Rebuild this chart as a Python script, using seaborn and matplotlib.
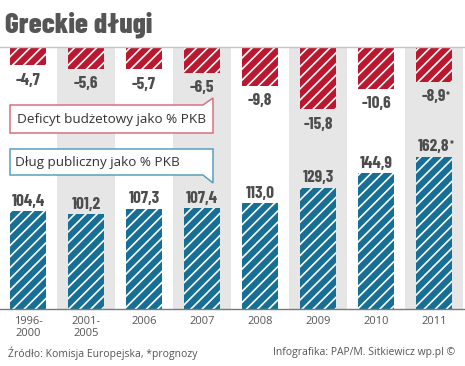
import matplotlib
matplotlib.use("Agg")
import matplotlib.pyplot as plt
import seaborn as sns
import pandas as pd
from matplotlib.patches import Polygon

# ---- data ----
categories = ["1996-\n2000", "2001-\n2005", "2006", "2007", "2008", "2009", "2010", "2011"]
deficit = [-4.7, -5.6, -5.7, -6.5, -9.8, -15.8, -10.6, -8.9]
debt = [104.4, 101.2, 107.3, 107.4, 113.0, 129.3, 144.9, 162.8]
forecast = [False, False, False, False, False, False, False, True]
series_names = ["Deficyt budżetowy jako % PKB", "Dług publiczny jako % PKB"]
title = "Greckie długi"
source_text = "Źródło: Komisja Europejska, *prognozy"
credit_text = "Infografika: PAP/M. Sitkiewicz wp.pl ©"

# ---- style ----
RED = "#bb1830"
BLUE = "#176f96"
BAND = "#e6e6e6"
LABEL = "#4d4d4d"
TITLE_C = "#555555"
NARROW = ["Barlow Condensed", "DejaVu Sans"]
BODY = ["Open Sans", "DejaVu Sans"]

sns.set_theme(style="white")
plt.rcParams["font.family"] = BODY
plt.rcParams["hatch.linewidth"] = 1.2

W, H = 465, 366
fig = plt.figure(figsize=(W / 100, H / 100), dpi=100)
fig.patch.set_facecolor("white")


def fx(x):
    return x / W


def fy(y):
    return 1 - y / H


df = pd.DataFrame({"cat": categories, "deficit": deficit, "debt": debt})

ax_top = fig.add_axes([0, fy(141), 1, (141 - 47) / H])
ax_bot = fig.add_axes([0, fy(309), 1, (309 - 141) / H])

sns.barplot(data=df, x="cat", y="deficit", ax=ax_top, color=RED, saturation=1,
            width=0.62, edgecolor="white", linewidth=0, zorder=2)
sns.barplot(data=df, x="cat", y="debt", ax=ax_bot, color=BLUE, saturation=1,
            width=0.62, edgecolor="white", linewidth=0, zorder=2)

for ax in (ax_top, ax_bot):
    for p in ax.containers[0]:
        p.set_hatch("///")
        p.set_edgecolor("white")
        p.set_linewidth(0)
    for i in range(1, len(categories), 2):
        ax.axvspan(i - 0.5, i + 0.5, color=BAND, zorder=0, lw=0)
    ax.set_xlim(-28 / 58, (W - 28) / 58)
    ax.set_facecolor("white")
    ax.set_ylabel("")
    ax.set_xlabel("")
    ax.set_yticks([])

ax_top.set_ylim(-94 / 3.93, 0)
ax_bot.set_ylim(0, 168 / 0.936)

for s in ax_top.spines.values():
    s.set_visible(False)
ax_top.spines["top"].set_visible(True)
ax_top.spines["top"].set_color("#c4c4c4")
ax_top.spines["top"].set_linewidth(1.0)
ax_top.set_xticks([])

for s in ax_bot.spines.values():
    s.set_visible(False)
ax_bot.spines["bottom"].set_visible(True)
ax_bot.spines["bottom"].set_color("#7a7a7a")
ax_bot.spines["bottom"].set_linewidth(1.0)
ax_bot.tick_params(axis="x", length=0, pad=5, labelsize=8, labelcolor="#555555")
for t in ax_bot.get_xticklabels():
    t.set_linespacing(1.1)
    t.set_va("top")


def fmt(v):
    return f"{v:.1f}".replace(".", ",")


for i, (v, fc) in enumerate(zip(deficit, forecast)):
    t = ax_top.annotate(fmt(v), xy=(i, v), xytext=(0, -14), textcoords="offset points",
                        ha="center", va="baseline", fontsize=12.5, fontweight="bold",
                        family=NARROW, color=LABEL, zorder=5)
    if fc:
        ax_top.annotate("*", xy=(1, 1), xycoords=t, xytext=(0, -1), textcoords="offset points",
                        ha="left", va="top", fontsize=7.5, fontweight="bold",
                        family=NARROW, color=LABEL)

for i, (v, fc) in enumerate(zip(debt, forecast)):
    t = ax_bot.annotate(fmt(v), xy=(i, v), xytext=(0, 4), textcoords="offset points",
                        ha="center", va="baseline", fontsize=12.5, fontweight="bold",
                        family=NARROW, color=LABEL, zorder=5)
    if fc:
        ax_bot.annotate("*", xy=(1, 1), xycoords=t, xytext=(0, -1), textcoords="offset points",
                        ha="left", va="top", fontsize=7.5, fontweight="bold",
                        family=NARROW, color=LABEL)

# ---- callout boxes ----
red_box = [(10, 105), (203, 105), (213, 98), (213, 133), (10, 133)]
blue_box = [(10, 149), (213, 149), (213, 183), (203, 175), (10, 175)]
for pts, ec in ((red_box, "#d9707f"), (blue_box, "#5a9fc0")):
    fig.add_artist(Polygon([(fx(x), fy(y)) for x, y in pts], closed=True,
                           transform=fig.transFigure, facecolor="white",
                           edgecolor=ec, lw=1.1, zorder=3))
fig.text(fx(17), fy(119), series_names[0], fontsize=9.7, color="#333333",
         va="center", ha="left", zorder=4)
fig.text(fx(15), fy(162), series_names[1], fontsize=9.7, color="#333333",
         va="center", ha="left", zorder=4)

# ---- title & footer ----
fig.text(fx(5), fy(33), title, fontsize=21, fontweight="heavy", family=NARROW,
         color=TITLE_C, va="baseline", ha="left")
fig.text(fx(8), fy(353), source_text, fontsize=7.5, color="#555555", va="center", ha="left")
fig.text(fx(455), fy(353), credit_text, fontsize=7.5, color="#555555", va="center", ha="right")

fig.savefig("out.png", dpi=100, facecolor="white")
